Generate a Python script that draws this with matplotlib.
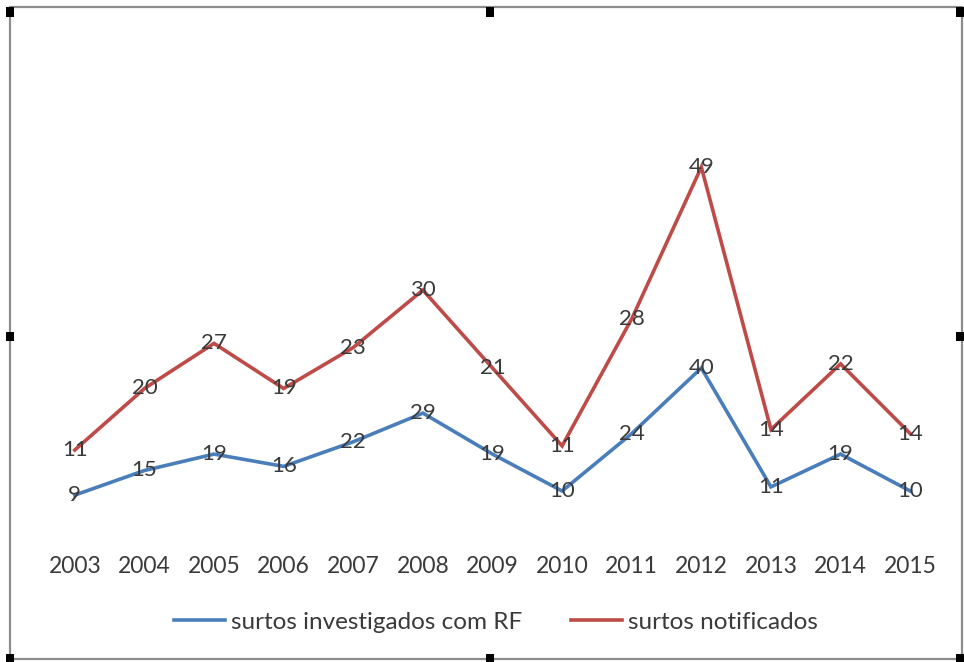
import matplotlib

matplotlib.use("Agg")
import matplotlib.pyplot as plt  # noqa: E402
from matplotlib.patches import Rectangle  # noqa: E402

years = ["2003", "2004", "2005", "2006", "2007", "2008", "2009",
         "2010", "2011", "2012", "2013", "2014", "2015"]
investigados = [9, 15, 19, 16, 22, 29, 19, 10, 24, 40, 11, 19, 10]
notificados = [11, 20, 27, 19, 23, 30, 21, 11, 28, 49, 14, 22, 14]

C_BLUE = "#4a7ebb"
C_RED = "#be4b48"
C_TEXT = "#3a3a3a"

plt.rcParams["font.family"] = ["Lato", "DejaVu Sans"]

W, H = 964, 662
fig = plt.figure(figsize=(W / 100, H / 100), dpi=100)

# plot area in pixel terms (stacked line chart, hidden value axis)
left, right, bottom, top = 40, 945, 532, 122
ax = fig.add_axes([left / W, (H - bottom) / H, (right - left) / W, (bottom - top) / H])

x = list(range(len(years)))
stacked = [a + b for a, b in zip(investigados, notificados)]
ax.plot(x, investigados, color=C_BLUE, lw=2.6, label="surtos investigados com RF",
        solid_joinstyle="miter")
ax.plot(x, stacked, color=C_RED, lw=2.6, label="surtos notificados",
        solid_joinstyle="miter")

for xi, v in zip(x, investigados):
    ax.text(xi, v, str(v), ha="center", va="center", fontsize=16, color=C_TEXT)
for xi, s, v in zip(x, stacked, notificados):
    ax.text(xi, s, str(v), ha="center", va="center", fontsize=16, color=C_TEXT)

ax.set_xlim(-0.5, len(years) - 0.5)
ax.set_ylim(0, 100)
ax.set_xticks(x)
ax.set_xticklabels(years, fontsize=16.5, color=C_TEXT)
ax.set_yticks([])
ax.tick_params(axis="x", length=0, pad=17)
for sp in ax.spines.values():
    sp.set_visible(False)

fig.legend(loc="center", bbox_to_anchor=(496 / W, (H - 622) / H), ncol=2, frameon=False,
           fontsize=17.5, handlelength=2.1, handletextpad=0.25, columnspacing=2.0,
           labelcolor=C_TEXT)

# selection frame with sizing handles
fig.patches.append(Rectangle((10 / W, 3 / H), 952 / W, 652 / H, transform=fig.transFigure,
                             fill=False, edgecolor="#8c8c8c", lw=1.6))
hs = 9
for hx in (10, 490, 960):
    for hy in (12, 336, 658):
        if hx == 490 and hy == 336:
            continue
        fig.patches.append(Rectangle(((hx - hs / 2) / W, (H - hy - hs / 2) / H), hs / W, hs / H,
                                     transform=fig.transFigure, facecolor="black",
                                     edgecolor="none"))

fig.savefig("out.png", dpi=100)
